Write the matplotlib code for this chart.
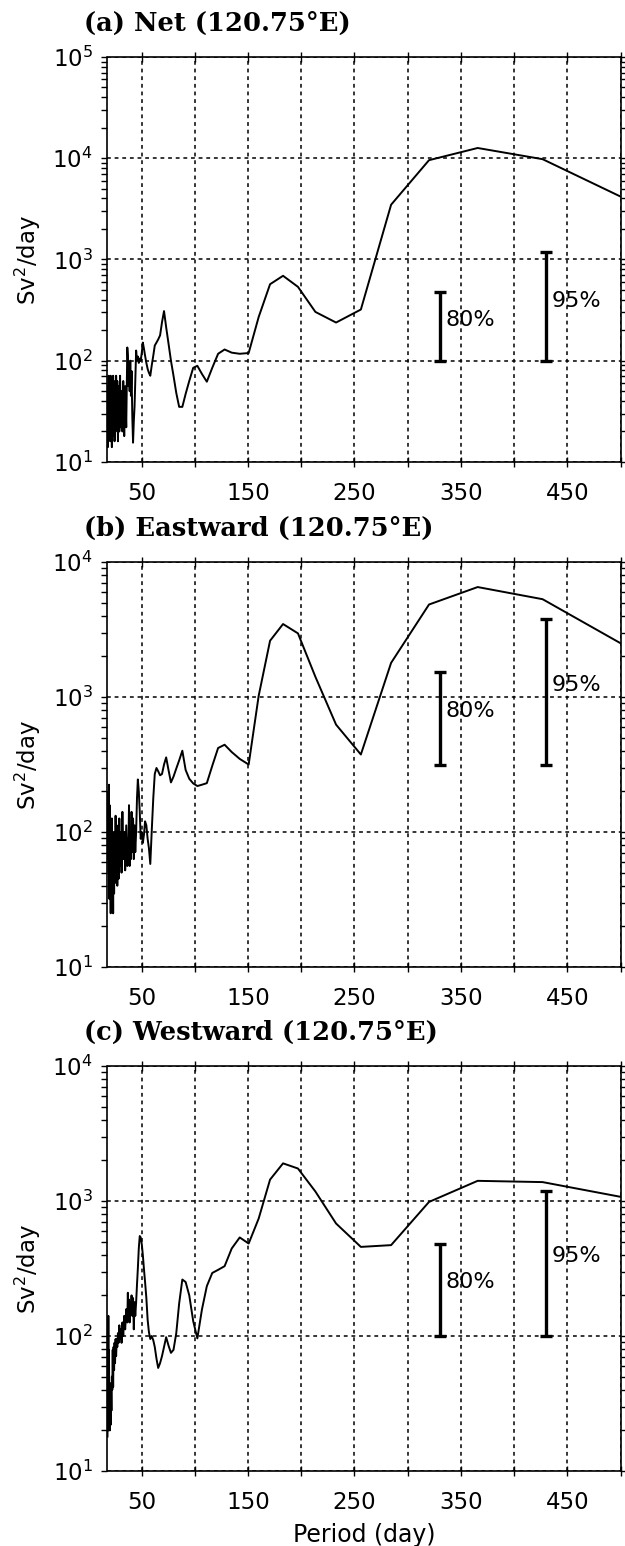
import matplotlib.pyplot as plt
from matplotlib.ticker import FixedLocator, NullFormatter

plt.rcParams['font.family'] = 'DejaVu Sans'
plt.rcParams['mathtext.fontset'] = 'dejavusans'

# periods (day) of the spectral estimates, long periods first
period_lf = [512.0, 426.7, 365.7, 320.0, 284.4, 256.0, 232.7, 213.3, 196.9, 182.9,
             170.7, 160.0, 150.6, 142.2, 134.7, 128.0, 121.9, 116.4, 111.3, 106.7,
             102.4, 98.5, 94.8, 91.4, 88.3, 85.3, 82.6, 80.0, 77.6, 75.3,
             73.1, 71.1, 69.2, 67.4, 65.6, 64.0, 62.4, 61.0, 59.5, 58.2,
             56.9, 55.7, 54.5, 53.3, 52.2, 51.2, 50.2, 49.2, 48.3]
period_hf = [47.4, 46.5, 45.7, 44.9, 44.1, 43.4, 42.7, 42.0, 41.3, 40.6,
             40.0, 39.4, 38.8, 38.2, 37.6, 37.1, 36.6, 35.6, 34.6, 33.7,
             32.8, 32.0, 31.2, 30.5, 29.8, 29.1, 28.4, 27.8, 27.2, 26.7,
             26.1, 25.6, 25.1, 24.6, 24.2, 23.7, 23.3, 22.9, 22.5, 22.1,
             21.7, 21.3, 21.0, 20.6, 20.3, 20.0, 19.7, 19.4, 19.1, 18.8,
             18.6, 18.3, 18.0]

# (a) net transport spectrum, Sv^2/day
net_lf = [3630, 9770, 12600, 9550, 3470, 320, 238, 303, 536, 689,
          569, 270, 119, 117, 120, 129, 117, 85, 62, 74,
          89, 85, 63, 47, 35, 35, 48, 71, 100, 148,
          214, 309, 240, 178, 162, 151, 141, 112, 89, 71,
          76, 83, 95, 112, 132, 151, 120, 100, 105]
net_hf = [95, 110, 100, 126, 63, 35, 25, 15.5, 28, 79,
          45, 100, 50, 89, 56, 112, 135, 22, 56, 18,
          63, 20, 50, 22, 71, 20, 56, 16, 63, 28,
          71, 20, 63, 16, 56, 25, 71, 18, 56, 14,
          50, 20, 71, 16, 56, 25, 63, 20, 71, 32,
          56, 14, 40]

# (b) eastward
east_lf = [2210, 5300, 6520, 4840, 1790, 375, 624, 1410, 2960, 3470,
           2610, 1020, 316, 348, 391, 443, 419, 309, 230, 224,
           219, 229, 248, 288, 400, 339, 295, 257, 233, 288,
           357, 316, 269, 263, 282, 298, 269, 178, 100, 58,
           76, 89, 112, 120, 95, 83, 100, 89, 141]
east_hf = [200, 245, 178, 100, 71, 112, 63, 126, 71, 141,
           63, 100, 56, 158, 71, 89, 56, 112, 52, 100,
           63, 141, 50, 100, 56, 126, 45, 89, 40, 112,
           50, 132, 42, 79, 35, 100, 25, 71, 32, 126,
           28, 89, 25, 100, 40, 158, 32, 224, 50, 200,
           63, 100, 79]

# (c) westward
west_lf = [1030, 1380, 1410, 984, 471, 457, 681, 1175, 1740, 1900,
           1440, 741, 484, 537, 445, 329, 309, 293, 234, 157,
           96, 129, 200, 251, 262, 174, 105, 79, 75, 85,
           98, 83, 71, 63, 58, 68, 83, 93, 100, 95,
           107, 132, 191, 251, 316, 398, 479, 537, 550]
west_hf = [447, 316, 240, 178, 141, 178, 112, 191, 141, 200,
           158, 178, 126, 186, 141, 209, 126, 158, 112, 141,
           100, 126, 89, 112, 95, 120, 89, 105, 83, 95,
           71, 95, 63, 89, 56, 83, 42, 79, 40, 50,
           28, 42, 22, 35, 20, 45, 22, 79, 20, 141,
           25, 40, 18]

titles = ['(a) Net (120.75°E)', '(b) Eastward (120.75°E)', '(c) Westward (120.75°E)']
series = [net_lf + net_hf, east_lf + east_hf, west_lf + west_hf]
y_top = [1e5, 1e4, 1e4]

# confidence bars: x position, lower end per panel, upper ends per panel
bar_x = [330, 430]
bar_labels = ['80%', '95%']
bar_lo = [100, 316, 100]
bar_hi = [[480, 1180], [1530, 3810], [480, 1180]]
label_rise = [2.5, 3.9]  # label centre = lower end * factor

xticks = list(range(50, 501, 50))
xticklabels = [str(t) if t % 100 == 50 else '' for t in xticks]

bottoms = [0.7012, 0.3745, 0.0485]
period = period_lf + period_hf

fig = plt.figure(figsize=(6.25, 15.46), dpi=100)
for i in range(3):
    ax = fig.add_axes([0.172, bottoms[i], 0.821, 0.262])
    ax.plot(period, series[i], color='black', lw=1.4)
    ax.set_yscale('log')
    ax.set_xlim(18, 500)
    ax.set_ylim(10, y_top[i])

    # significance bars
    for j in range(2):
        lo = bar_lo[i]
        hi = bar_hi[i][j]
        ax.errorbar([bar_x[j]], [lo], yerr=[[0], [hi - lo]], fmt='none',
                    ecolor='black', elinewidth=2.4, capsize=4, capthick=2.4)
        ax.annotate(bar_labels[j], (bar_x[j], lo * label_rise[j]),
                    xytext=(4, 0), textcoords='offset points',
                    fontsize=16, va='center', ha='left')

    ax.xaxis.set_major_locator(FixedLocator(xticks))
    ax.set_xticklabels(xticklabels)
    ax.yaxis.set_minor_formatter(NullFormatter())
    ax.tick_params(axis='x', which='both', direction='inout', length=6.5,
                   width=1, top=True, labelsize=16.5, pad=11)
    ax.tick_params(axis='y', which='both', direction='out', length=4.5,
                   width=1, right=True, labelsize=16.5, pad=6)
    ax.grid(True, which='major', color='black', linestyle=(0, (2.5, 2.5)), lw=1.1)
    for s in ax.spines.values():
        s.set_linewidth(1.2)

    ax.set_ylabel('Sv$^2$/day', fontsize=16.5)
    ax.yaxis.set_label_coords(-0.125, 0.5)
    ax.text(-0.046, 1.083, titles[i], transform=ax.transAxes,
            fontfamily='DejaVu Serif', fontweight='bold', fontsize=18.5,
            va='center', ha='left')

    if i == 2:
        ax.set_xlabel('Period (day)', fontsize=17)
        ax.xaxis.set_label_coords(0.5, -0.128)

fig.savefig('out.png', dpi=100)
